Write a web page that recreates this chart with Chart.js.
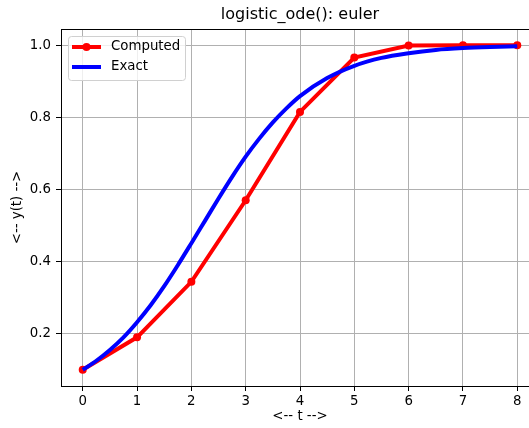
<!DOCTYPE html>
<html>
<head>
<meta charset="utf-8">
<script src="https://cdn.jsdelivr.net/npm/chart.js@4/dist/chart.umd.min.js"></script>
<style>
  html, body { margin: 0; padding: 0; background: #fff; overflow: hidden; }
  #wrap { width: 545px; height: 428px; }
</style>
</head>
<body>
<div id="wrap"><canvas id="odeChart" width="545" height="428"></canvas></div>
<script>
// values
const stepT = [0, 1, 2, 3, 4, 5, 6, 7, 8];
const computedY = [0.1, 0.19, 0.344, 0.570, 0.815, 0.966, 0.999, 1.0, 1.0];

const exactT = [0, 0.25, 0.5, 0.75, 1, 1.25, 1.5, 1.75, 2, 2.25, 2.5, 2.75, 3, 3.25, 3.5, 3.75, 4, 4.5, 5, 5.5, 6, 6.5, 7, 7.5, 8];
const exactY = [0.1, 0.125, 0.155, 0.190, 0.232, 0.279, 0.332, 0.390, 0.451, 0.513, 0.575, 0.635, 0.691, 0.741, 0.786, 0.825, 0.859, 0.909, 0.943, 0.965, 0.978, 0.987, 0.992, 0.995, 0.997];

const xTicks = [0, 1, 2, 3, 4, 5, 6, 7, 8];
const yTicks = [0.2, 0.4, 0.6, 0.8, 1.0];

const FONT = "'DejaVu Sans', sans-serif";

const extras = {
  id: "extras",
  afterDraw(chart) {
    const { ctx, chartArea: a } = chart;
    ctx.save();
    // top spine
    ctx.strokeStyle = "#000";
    ctx.lineWidth = 1;
    ctx.beginPath();
    ctx.moveTo(a.left, a.top + 0.5);
    ctx.lineTo(a.right, a.top + 0.5);
    ctx.stroke();

    // title and axis labels
    ctx.fillStyle = "#000";
    ctx.textAlign = "center";
    ctx.textBaseline = "middle";
    ctx.font = "16px " + FONT;
    ctx.fillText("logistic_ode(): euler", (a.left + a.right) / 2, 15);
    ctx.font = "13.33px " + FONT;
    ctx.fillText("<-- t -->", (a.left + a.right) / 2, 417);
    ctx.save();
    ctx.translate(18, (a.top + a.bottom) / 2);
    ctx.rotate(-Math.PI / 2);
    ctx.fillText("<-- y(t) -->", 0, 0);
    ctx.restore();

    // legend
    const lx = 68.5, ly = 36.5, lw = 117, lh = 44;
    ctx.beginPath();
    ctx.roundRect(lx, ly, lw, lh, 3);
    ctx.fillStyle = "rgba(255,255,255,0.8)";
    ctx.fill();
    ctx.strokeStyle = "#d0d0d0";
    ctx.lineWidth = 1;
    ctx.stroke();

    const rows = [
      { label: "Computed", color: "#ff0000", marker: true, y: 47 },
      { label: "Exact", color: "#0000ff", marker: false, y: 67 }
    ];
    rows.forEach(r => {
      ctx.strokeStyle = r.color;
      ctx.lineWidth = 4;
      ctx.beginPath();
      ctx.moveTo(72, r.y);
      ctx.lineTo(101, r.y);
      ctx.stroke();
      if (r.marker) {
        ctx.fillStyle = r.color;
        ctx.beginPath();
        ctx.arc(86.5, r.y, 4, 0, Math.PI * 2);
        ctx.fill();
      }
      ctx.fillStyle = "#000";
      ctx.textAlign = "left";
      ctx.font = "13.33px " + FONT;
      ctx.fillText(r.label, 111, r.y);
    });
    ctx.restore();
  }
};

new Chart(document.getElementById("odeChart"), {
  type: "line",
  data: {
    datasets: [
      {
        label: "Computed",
        data: stepT.map((t, i) => ({ x: t, y: computedY[i] })),
        borderColor: "#ff0000",
        backgroundColor: "#ff0000",
        borderWidth: 4,
        pointRadius: 4,
        pointBorderWidth: 0,
        pointBackgroundColor: "#ff0000",
        tension: 0,
        order: 1
      },
      {
        label: "Exact",
        data: exactT.map((t, i) => ({ x: t, y: exactY[i] })),
        borderColor: "#0000ff",
        borderWidth: 4,
        pointRadius: 0,
        cubicInterpolationMode: "monotone",
        order: 0
      }
    ]
  },
  options: {
    responsive: false,
    animation: false,
    layout: { padding: { left: 0, right: 6, top: 29, bottom: 0 } },
    plugins: {
      legend: { display: false },
      title: { display: false },
      tooltip: { enabled: false }
    },
    scales: {
      x: {
        type: "linear",
        min: -0.4,
        max: 8.4,
        afterBuildTicks: s => { s.ticks = xTicks.map(v => ({ value: v })); },
        afterFit: s => { s.height = 42; },
        grid: { color: "#b0b0b0", lineWidth: 1, tickLength: 5, tickColor: "#000" },
        border: { color: "#000", width: 1 },
        ticks: { color: "#000", font: { family: FONT, size: 13.33 }, padding: 3, maxRotation: 0 }
      },
      y: {
        type: "linear",
        min: 0.055,
        max: 1.045,
        afterBuildTicks: s => { s.ticks = yTicks.map(v => ({ value: v })); },
        afterFit: s => { s.width = 61; },
        grid: { color: "#b0b0b0", lineWidth: 1, tickLength: 5, tickColor: "#000" },
        border: { color: "#000", width: 1 },
        ticks: { color: "#000", font: { family: FONT, size: 13.33 }, padding: 5, callback: v => v.toFixed(1) }
      }
    }
  },
  plugins: [extras]
});
</script>
</body>
</html>
